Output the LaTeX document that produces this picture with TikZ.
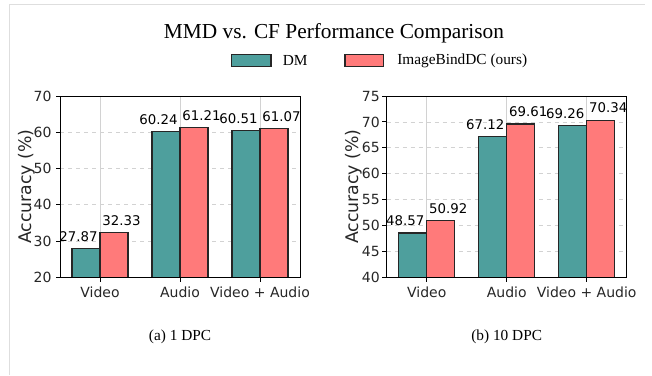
\documentclass[tikz,border=0pt]{standalone}
\usepackage{fontspec}
\setmainfont{Liberation Serif}
\newfontfamily\plotfont{DejaVu Sans}
\usepackage{tikz}

\definecolor{dmteal}{RGB}{78,159,157}
\definecolor{oursred}{RGB}{255,122,122}
\definecolor{gridgray}{RGB}{210,210,210}
\definecolor{framegray}{RGB}{222,222,222}
\definecolor{tickgray}{RGB}{38,38,38}

\tikzset{
  barbox/.style={draw=black!85,line width=0.9pt},
  gridh/.style={draw=gridgray,dashed,line width=0.5pt},
  gridv/.style={draw=gridgray,line width=0.5pt},
  ticklabel/.style={font=\plotfont\fontsize{10.5}{12}\selectfont,text=tickgray,inner sep=0pt},
  vallabel/.style={font=\plotfont\fontsize{10}{12}\selectfont,inner sep=0pt},
  axlabel/.style={font=\plotfont\fontsize{13}{15}\selectfont,text=tickgray,inner sep=0pt,rotate=90},
  serifcap/.style={font=\fontsize{11.5}{13}\selectfont,inner sep=0pt},
}

\begin{document}
\begin{tikzpicture}[x=0.75pt,y=0.75pt,yscale=-1,xscale=1]
\useasboundingbox (0,0) rectangle (652,375);

%Frame of the page
\draw [framegray,line width=0.75pt] (9,375) -- (9,4) -- (645,4);

% Title Node
\node [font=\fontsize{16}{18}\selectfont,inner sep=0pt] (title) at (334,33) {MMD vs. CF Performance Comparison};

%Legend
\draw [barbox,fill=dmteal] (231.5,54.5) rectangle (271,66.5) coordinate (dmkey);
\node [serifcap,anchor=west] (dmtext) at (282.5,60.5) {DM};
\draw [barbox,fill=oursred] (345,54.5) rectangle (383.3,66.5) coordinate (ourskey);
\node [serifcap,anchor=west] (ourstext) at (397,60.5) {ImageBindDC (ours)};

%Panel (a): 1 DPC
\begin{scope}[shift={(60,277.3)}]
\foreach \t in {30,40,50,60} \draw [gridh] (0,{-(\t-20)*3.626}) -- (240,{-(\t-20)*3.626});
\foreach \cx in {40,120,200} \draw [gridv] (\cx,0) -- (\cx,-181.3);
\foreach \cx/\a/\b [count=\i] in {40/27.87/32.33,120/60.24/61.21,200/60.51/61.07}{
  \draw [barbox,fill=dmteal] (\cx-28,0) rectangle (\cx,{-(\a-20)*3.626});
  \draw [barbox,fill=oursred] (\cx,0) rectangle (\cx+28,{-(\b-20)*3.626});
  \node [vallabel] (va\i) at (\cx-21.5,{-(\a-20)*3.626-12}) {\a};
  \node [vallabel] (vb\i) at (\cx+21.5,{-(\b-20)*3.626-12}) {\b};
}
\draw [line width=0.75pt] (0,0) rectangle (240,-181.3);
\foreach \t in {20,30,...,70}{
  \draw [line width=0.75pt] (0,{-(\t-20)*3.626}) -- (-4.5,{-(\t-20)*3.626});
  \node [ticklabel,anchor=east] (ya\t) at (-8.3,{-(\t-20)*3.626}) {\t};
}
\foreach \cx/\lab [count=\i] in {40/Video,120/Audio,200/Video + Audio}{
  \draw [line width=0.75pt] (\cx,0) -- (\cx,4.5);
  \node [ticklabel] (xa\i) at (\cx,14.6) {\lab};
}
\node [axlabel] (ylaba) at (-33.3,-90.65) {Accuracy (\%)};
\end{scope}

%Panel (b): 10 DPC
\begin{scope}[shift={(386.7,277.3)}]
\foreach \t in {45,50,...,70} \draw [gridh] (0,{-(\t-40)*5.18}) -- (240,{-(\t-40)*5.18});
\foreach \cx in {40,120,200} \draw [gridv] (\cx,0) -- (\cx,-181.3);
\foreach \cx/\a/\b [count=\i] in {40/48.57/50.92,120/67.12/69.61,200/69.26/70.34}{
  \draw [barbox,fill=dmteal] (\cx-28,0) rectangle (\cx,{-(\a-40)*5.18});
  \draw [barbox,fill=oursred] (\cx,0) rectangle (\cx+28,{-(\b-40)*5.18});
  \node [vallabel] (wa\i) at (\cx-21.5,{-(\a-40)*5.18-12}) {\a};
  \node [vallabel] (wb\i) at (\cx+21.5,{-(\b-40)*5.18-12}) {\b};
}
\draw [line width=0.75pt] (0,0) rectangle (240,-181.3);
\foreach \t in {40,45,...,75}{
  \draw [line width=0.75pt] (0,{-(\t-40)*5.18}) -- (-4.5,{-(\t-40)*5.18});
  \node [ticklabel,anchor=east] (yb\t) at (-6.7,{-(\t-40)*5.18}) {\t};
}
\foreach \cx/\lab [count=\i] in {40/Video,120/Audio,200/Video + Audio}{
  \draw [line width=0.75pt] (\cx,0) -- (\cx,4.5);
  \node [ticklabel] (xb\i) at (\cx,14.6) {\lab};
}
\node [axlabel] (ylabb) at (-33.4,-90.65) {Accuracy (\%)};
\end{scope}

% Caption Nodes
\node [serifcap] (capa) at (180,337) {(a) 1 DPC};
\node [serifcap] (capb) at (506.7,337) {(b) 10 DPC};

\end{tikzpicture}
\end{document}
